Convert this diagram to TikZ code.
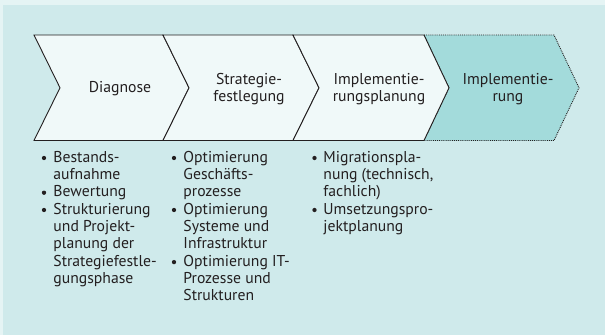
\documentclass[tikz,border=0pt]{standalone}
\usepackage{fontspec}
\setmainfont{PT Sans}
\usepackage{tikz}

\definecolor{bgouter}{HTML}{E5F4F4}
\definecolor{bginner}{HTML}{CFEAEB}
\definecolor{phasefill}{HTML}{F0F9F9}
\definecolor{nextfill}{HTML}{A3DBDB}
\definecolor{inkgray}{HTML}{231F20}

\begin{document}
\begin{tikzpicture}[x=1pt,y=-1pt,line width=0.9pt,
	font=\fontsize{15.7}{17.35}\selectfont,text=inkgray]
	\tikzstyle{phase}=[draw=inkgray,fill=phasefill,line join=miter]
	\tikzstyle{nextphase}=[draw=inkgray,fill=nextfill,densely dotted]
	\tikzstyle{title}=[align=center,inner sep=0pt]
	\tikzstyle{items}=[align=left,anchor=north west,inner sep=0pt]
	\tikzstyle{dot}=[circle,fill=inkgray,inner sep=0pt,minimum size=4.3pt]

	% background
	\fill[bgouter] (0,0) rectangle (605,335);
	\fill[bginner] (3,5) rectangle (605,335);
	\useasboundingbox (0,0) rectangle (605,335);

	% chevrons
	\draw[nextphase] (424,35) -- (554,35) -- (579,87.8) -- (554,140.5) -- (424,140.5) -- (449,87.8) -- cycle;
	\draw[phase] (34,35) -- (163,35) -- (189,87.8) -- (163,140.5) -- (34,140.5) -- (60,87.8) -- cycle;
	\draw[phase] (163,35) -- (293,35) -- (319,87.8) -- (293,140.5) -- (163,140.5) -- (189,87.8) -- cycle;
	\draw[phase] (293,35) -- (424,35) -- (449,87.8) -- (424,140.5) -- (293,140.5) -- (319,87.8) -- cycle;

	\node[title] (diag) at (120,89) {Diagnose};
	\node[title] (strat) at (249,89) {Strategie-\\festlegung};
	\node[title] (implplan) at (379,89) {Implementie-\\rungsplanung};
	\node[title] (impl) at (508,89) {Implementie-\\rung};

	% bullet lists
	\node[items] (diagtxt) at (53,150.5) {Bestands-\\aufnahme\\Bewertung\\Strukturierung\\und Projekt-\\planung der\\Strategiefestle-\\gungsphase};
	\node[dot] (d1) at (44,158) {};
	\node[dot] (d2) at (44,192.7) {};
	\node[dot] (d3) at (44,210) {};

	\node[items] (strattxt) at (183,150.5) {Optimierung\\Geschäfts-\\prozesse\\Optimierung\\Systeme und\\Infrastruktur\\Optimierung IT-\\Prozesse und\\Strukturen};
	\node[dot] (s1) at (174,158) {};
	\node[dot] (s2) at (174,210) {};
	\node[dot] (s3) at (174,262.1) {};

	\node[items] (plantxt) at (323,150.5) {Migrationspla-\\nung (technisch,\\fachlich)\\Umsetzungspro-\\jektplanung};
	\node[dot] (p1) at (314.5,158) {};
	\node[dot] (p2) at (314.5,210) {};
\end{tikzpicture}
\end{document}
